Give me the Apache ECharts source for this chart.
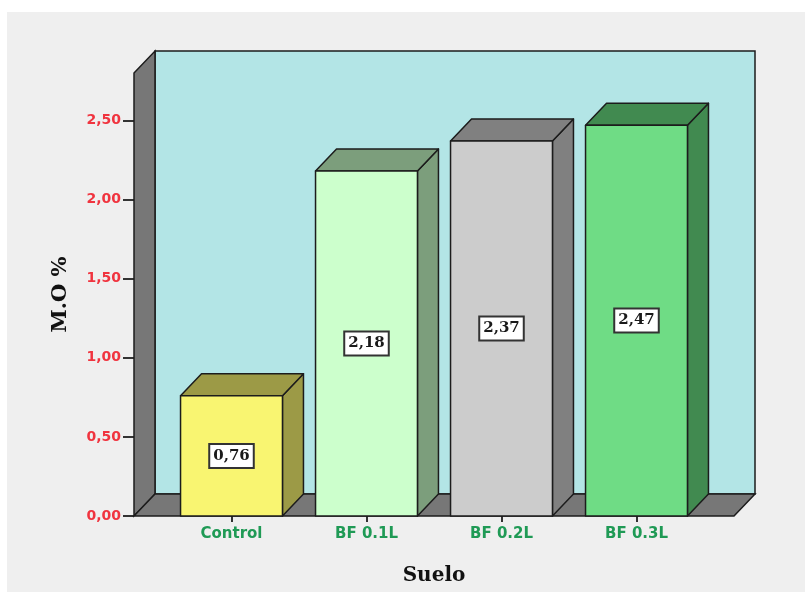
<!DOCTYPE html>
<html>
<head>
<meta charset="utf-8">
<script src="https://cdn.jsdelivr.net/npm/echarts@6/dist/echarts.min.js"></script>
<style>
  html, body { margin: 0; padding: 0; background: #ffffff; }
  #chart { width: 805px; height: 592px; }
</style>
</head>
<body>
<div id="chart"></div>
<script>
// Soil organic matter (M.O %) per treatment
const categories = ['Control', 'BF 0.1L', 'BF 0.2L', 'BF 0.3L'];
const values = [0.76, 2.18, 2.37, 2.47];
const frontColors = ['#f9f571', '#ccffcc', '#cccccc', '#6fdc85'];
const shadeColors = ['#9c9a46', '#7c9e7c', '#808080', '#418a50'];
const yTicks = [0, 0.5, 1, 1.5, 2, 2.5];

// 3D look: depth offset of every box, in pixels
const DX = 21, DY = 22;
// extra floor width beyond the category band on each side
const PAD = 30;
const EDGE = '#1c1c1c';

const fmt = v => v.toFixed(2).replace('.', ',');

const chart = echarts.init(document.getElementById('chart'), null, { renderer: 'canvas' });

function renderWalls(params, api) {
  const cs = params.coordSys;
  const X0 = cs.x - PAD, X1 = cs.x + cs.width + PAD;
  const Yt = cs.y, Yb = cs.y + cs.height;
  const line = { stroke: EDGE, lineWidth: 1.5 };
  return {
    type: 'group',
    children: [
      { type: 'rect', shape: { x: X0 + DX, y: Yt - DY, width: X1 - X0, height: Yb - Yt },
        style: Object.assign({ fill: '#b3e5e6' }, line) },
      { type: 'polygon', shape: { points: [[X0, Yt], [X0 + DX, Yt - DY], [X0 + DX, Yb - DY], [X0, Yb]] },
        style: Object.assign({ fill: '#777777' }, line) },
      { type: 'polygon', shape: { points: [[X0, Yb], [X0 + DX, Yb - DY], [X1 + DX, Yb - DY], [X1, Yb]] },
        style: Object.assign({ fill: '#777777' }, line) }
    ]
  };
}

function renderBar(params, api) {
  const i = api.value(0);
  const v = api.value(1);
  const base = api.coord([i, 0]);
  const top = api.coord([i, v]);
  const bw = api.size([1, 0])[0] * 0.755;
  const x0 = base[0] - bw / 2, x1 = x0 + bw;
  const yt = top[1], yb = base[1];
  const line = { stroke: EDGE, lineWidth: 1.5, lineJoin: 'round' };
  return {
    type: 'group',
    children: [
      { type: 'polygon', shape: { points: [[x1, yt], [x1 + DX, yt - DY], [x1 + DX, yb - DY], [x1, yb]] },
        style: Object.assign({ fill: shadeColors[i] }, line) },
      { type: 'polygon', shape: { points: [[x0, yt], [x0 + DX, yt - DY], [x1 + DX, yt - DY], [x1, yt]] },
        style: Object.assign({ fill: shadeColors[i] }, line) },
      { type: 'rect', shape: { x: x0, y: yt, width: bw, height: yb - yt },
        style: Object.assign({ fill: frontColors[i] }, line) },
      { type: 'text', x: (x0 + x1) / 2, y: (yt + yb) / 2,
        style: {
          text: fmt(v), fill: '#1a1a1a',
          font: 'bold 15px "DejaVu Serif", serif',
          align: 'center', verticalAlign: 'middle',
          backgroundColor: '#ffffff', borderColor: '#333333', borderWidth: 2,
          padding: [4, 3, 3, 3]
        } }
    ]
  };
}

chart.setOption({
  backgroundColor: '#ffffff',
  animation: false,
  graphic: {
    elements: [
      { type: 'rect', z: -100, silent: true,
        shape: { x: 7, y: 12, width: 798, height: 580 }, style: { fill: '#efefef' } }
    ]
  },
  grid: { left: 164, right: 101, top: 73, bottom: 76, containLabel: false },
  xAxis: {
    type: 'category',
    data: categories,
    name: 'Suelo',
    nameLocation: 'middle',
    nameGap: 50,
    nameTextStyle: { fontFamily: '"DejaVu Serif", serif', fontWeight: 'bold', fontSize: 20, color: '#111' },
    axisLine: { show: false },
    axisTick: { show: true, alignWithLabel: true, length: 6, lineStyle: { color: '#333', width: 2 } },
    axisLabel: { color: '#1f9a55', fontFamily: '"DejaVu Sans", sans-serif', fontWeight: 'bold', fontSize: 15, margin: 11 },
    splitLine: { show: false }
  },
  yAxis: {
    type: 'value',
    min: 0,
    max: 2.8,
    offset: PAD,
    name: 'M.O %',
    nameLocation: 'middle',
    nameGap: 63,
    nameTextStyle: { fontFamily: '"DejaVu Serif", serif', fontWeight: 'bold', fontSize: 21, color: '#111' },
    axisLine: { show: false },
    axisTick: { show: true, customValues: yTicks, length: 11, lineStyle: { color: '#333', width: 2 } },
    axisLabel: { customValues: yTicks, formatter: fmt, color: '#f0343f',
      fontFamily: '"DejaVu Sans", sans-serif', fontWeight: 'bold', fontSize: 14, margin: 13 },
    splitLine: { show: false }
  },
  series: [
    { type: 'custom', name: 'walls', silent: true, z: 1, renderItem: renderWalls,
      data: [[0, 0]], clip: false },
    { type: 'custom', name: 'M.O %', z: 2, renderItem: renderBar, clip: false,
      encode: { x: 0, y: 1 },
      data: categories.map((c, i) => [i, values[i]]) }
  ]
});
</script>
</body>
</html>
